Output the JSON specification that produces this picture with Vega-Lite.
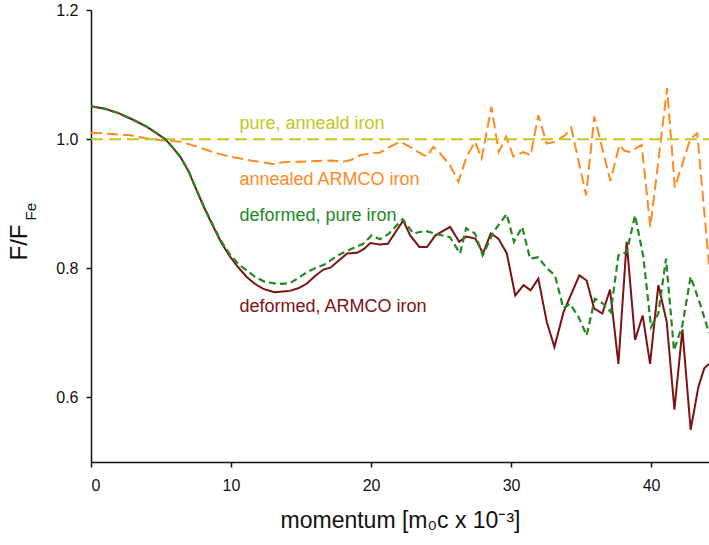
{
  "$schema": "https://vega.github.io/schema/vega-lite/v6.json",
  "width": 618,
  "height": 452,
  "autosize": {"type": "none"},
  "padding": {"left": 91, "top": 10, "right": 0, "bottom": 83},
  "background": "white",
  "config": {
    "view": {"stroke": null},
    "font": "Liberation Sans",
    "axis": {"labelFont": "Liberation Sans", "titleFont": "Liberation Sans", "labelColor": "#111", "titleColor": "#111", "domainColor": "#111", "tickColor": "#111", "domainWidth": 1.5, "tickWidth": 1.5, "tickSize": 5, "grid": false, "labelFontSize": 16, "titleFontWeight": "normal"}
  },
  "datasets": {
    "curves": [
      {"s": "pure annealed", "m": 0, "v": 1.0}, {"s": "pure annealed", "m": 44.14, "v": 1.0},

      {"s": "annealed ARMCO", "m": 0, "v": 1.010}, {"s": "annealed ARMCO", "m": 1.5, "v": 1.008}, {"s": "annealed ARMCO", "m": 2.8, "v": 1.006}, {"s": "annealed ARMCO", "m": 4.2, "v": 1.0}, {"s": "annealed ARMCO", "m": 5.3, "v": 0.998}, {"s": "annealed ARMCO", "m": 6.4, "v": 0.996}, {"s": "annealed ARMCO", "m": 7.5, "v": 0.989}, {"s": "annealed ARMCO", "m": 8.7, "v": 0.980}, {"s": "annealed ARMCO", "m": 9.9, "v": 0.973}, {"s": "annealed ARMCO", "m": 11.4, "v": 0.967}, {"s": "annealed ARMCO", "m": 12.3, "v": 0.964}, {"s": "annealed ARMCO", "m": 13.1, "v": 0.961}, {"s": "annealed ARMCO", "m": 13.6, "v": 0.964}, {"s": "annealed ARMCO", "m": 14.2, "v": 0.965}, {"s": "annealed ARMCO", "m": 14.93, "v": 0.965}, {"s": "annealed ARMCO", "m": 16.12, "v": 0.966}, {"s": "annealed ARMCO", "m": 17.2, "v": 0.967}, {"s": "annealed ARMCO", "m": 18.02, "v": 0.965}, {"s": "annealed ARMCO", "m": 18.62, "v": 0.968}, {"s": "annealed ARMCO", "m": 19.21, "v": 0.975}, {"s": "annealed ARMCO", "m": 19.93, "v": 0.978}, {"s": "annealed ARMCO", "m": 20.64, "v": 0.979}, {"s": "annealed ARMCO", "m": 21.24, "v": 0.987}, {"s": "annealed ARMCO", "m": 22.07, "v": 0.996}, {"s": "annealed ARMCO", "m": 22.79, "v": 0.988}, {"s": "annealed ARMCO", "m": 23.38, "v": 0.980}, {"s": "annealed ARMCO", "m": 23.98, "v": 0.973}, {"s": "annealed ARMCO", "m": 24.45, "v": 0.988}, {"s": "annealed ARMCO", "m": 24.93, "v": 0.978}, {"s": "annealed ARMCO", "m": 25.64, "v": 0.960}, {"s": "annealed ARMCO", "m": 26.24, "v": 0.934}, {"s": "annealed ARMCO", "m": 26.83, "v": 0.973}, {"s": "annealed ARMCO", "m": 27.43, "v": 0.996}, {"s": "annealed ARMCO", "m": 27.9, "v": 0.970}, {"s": "annealed ARMCO", "m": 28.6, "v": 1.050}, {"s": "annealed ARMCO", "m": 29.12, "v": 0.980}, {"s": "annealed ARMCO", "m": 29.65, "v": 1.004}, {"s": "annealed ARMCO", "m": 30.17, "v": 0.973}, {"s": "annealed ARMCO", "m": 30.88, "v": 0.980}, {"s": "annealed ARMCO", "m": 31.4, "v": 0.975}, {"s": "annealed ARMCO", "m": 31.95, "v": 1.037}, {"s": "annealed ARMCO", "m": 32.55, "v": 0.993}, {"s": "annealed ARMCO", "m": 33.14, "v": 0.996}, {"s": "annealed ARMCO", "m": 33.86, "v": 1.006}, {"s": "annealed ARMCO", "m": 34.3, "v": 1.018}, {"s": "annealed ARMCO", "m": 35.36, "v": 0.913}, {"s": "annealed ARMCO", "m": 35.95, "v": 1.035}, {"s": "annealed ARMCO", "m": 37.1, "v": 0.935}, {"s": "annealed ARMCO", "m": 37.74, "v": 0.991}, {"s": "annealed ARMCO", "m": 38.1, "v": 0.982}, {"s": "annealed ARMCO", "m": 38.5, "v": 0.980}, {"s": "annealed ARMCO", "m": 39.33, "v": 0.991}, {"s": "annealed ARMCO", "m": 39.95, "v": 0.864}, {"s": "annealed ARMCO", "m": 41.15, "v": 1.079}, {"s": "annealed ARMCO", "m": 41.7, "v": 0.925}, {"s": "annealed ARMCO", "m": 42.8, "v": 1.0}, {"s": "annealed ARMCO", "m": 43.3, "v": 1.009}, {"s": "annealed ARMCO", "m": 44.14, "v": 0.806},

      {"s": "deformed ARMCO", "m": 0, "v": 1.051}, {"s": "deformed ARMCO", "m": 1, "v": 1.047}, {"s": "deformed ARMCO", "m": 2, "v": 1.040}, {"s": "deformed ARMCO", "m": 3, "v": 1.030}, {"s": "deformed ARMCO", "m": 4, "v": 1.019}, {"s": "deformed ARMCO", "m": 4.7, "v": 1.009}, {"s": "deformed ARMCO", "m": 5.3, "v": 1.0}, {"s": "deformed ARMCO", "m": 5.8, "v": 0.988}, {"s": "deformed ARMCO", "m": 6.4, "v": 0.972}, {"s": "deformed ARMCO", "m": 7.0, "v": 0.949}, {"s": "deformed ARMCO", "m": 7.5, "v": 0.923}, {"s": "deformed ARMCO", "m": 8.1, "v": 0.893}, {"s": "deformed ARMCO", "m": 8.7, "v": 0.866}, {"s": "deformed ARMCO", "m": 9.3, "v": 0.840}, {"s": "deformed ARMCO", "m": 9.9, "v": 0.819}, {"s": "deformed ARMCO", "m": 10.5, "v": 0.802}, {"s": "deformed ARMCO", "m": 11.1, "v": 0.787}, {"s": "deformed ARMCO", "m": 11.7, "v": 0.776}, {"s": "deformed ARMCO", "m": 12.3, "v": 0.768}, {"s": "deformed ARMCO", "m": 13.1, "v": 0.763}, {"s": "deformed ARMCO", "m": 13.7, "v": 0.764}, {"s": "deformed ARMCO", "m": 14.2, "v": 0.765}, {"s": "deformed ARMCO", "m": 14.8, "v": 0.769}, {"s": "deformed ARMCO", "m": 15.4, "v": 0.776}, {"s": "deformed ARMCO", "m": 16.0, "v": 0.788}, {"s": "deformed ARMCO", "m": 16.6, "v": 0.798}, {"s": "deformed ARMCO", "m": 17.1, "v": 0.801}, {"s": "deformed ARMCO", "m": 17.7, "v": 0.812}, {"s": "deformed ARMCO", "m": 18.3, "v": 0.823}, {"s": "deformed ARMCO", "m": 19.0, "v": 0.824}, {"s": "deformed ARMCO", "m": 19.5, "v": 0.830}, {"s": "deformed ARMCO", "m": 19.95, "v": 0.839}, {"s": "deformed ARMCO", "m": 20.6, "v": 0.837}, {"s": "deformed ARMCO", "m": 21.2, "v": 0.838}, {"s": "deformed ARMCO", "m": 22.3, "v": 0.874}, {"s": "deformed ARMCO", "m": 22.8, "v": 0.851}, {"s": "deformed ARMCO", "m": 23.45, "v": 0.833}, {"s": "deformed ARMCO", "m": 24.0, "v": 0.833}, {"s": "deformed ARMCO", "m": 24.6, "v": 0.851}, {"s": "deformed ARMCO", "m": 25.65, "v": 0.864}, {"s": "deformed ARMCO", "m": 26.3, "v": 0.841}, {"s": "deformed ARMCO", "m": 26.8, "v": 0.849}, {"s": "deformed ARMCO", "m": 27.45, "v": 0.846}, {"s": "deformed ARMCO", "m": 28.0, "v": 0.823}, {"s": "deformed ARMCO", "m": 28.55, "v": 0.854}, {"s": "deformed ARMCO", "m": 29.1, "v": 0.846}, {"s": "deformed ARMCO", "m": 29.7, "v": 0.823}, {"s": "deformed ARMCO", "m": 30.3, "v": 0.758}, {"s": "deformed ARMCO", "m": 30.9, "v": 0.774}, {"s": "deformed ARMCO", "m": 31.4, "v": 0.766}, {"s": "deformed ARMCO", "m": 31.95, "v": 0.784}, {"s": "deformed ARMCO", "m": 32.55, "v": 0.717}, {"s": "deformed ARMCO", "m": 33.1, "v": 0.678}, {"s": "deformed ARMCO", "m": 33.75, "v": 0.732}, {"s": "deformed ARMCO", "m": 34.88, "v": 0.789}, {"s": "deformed ARMCO", "m": 35.4, "v": 0.781}, {"s": "deformed ARMCO", "m": 35.93, "v": 0.738}, {"s": "deformed ARMCO", "m": 36.52, "v": 0.730}, {"s": "deformed ARMCO", "m": 37.07, "v": 0.767}, {"s": "deformed ARMCO", "m": 37.67, "v": 0.652}, {"s": "deformed ARMCO", "m": 38.26, "v": 0.841}, {"s": "deformed ARMCO", "m": 38.86, "v": 0.689}, {"s": "deformed ARMCO", "m": 39.4, "v": 0.727}, {"s": "deformed ARMCO", "m": 39.93, "v": 0.652}, {"s": "deformed ARMCO", "m": 40.52, "v": 0.774}, {"s": "deformed ARMCO", "m": 41.12, "v": 0.717}, {"s": "deformed ARMCO", "m": 41.67, "v": 0.581}, {"s": "deformed ARMCO", "m": 42.24, "v": 0.705}, {"s": "deformed ARMCO", "m": 42.83, "v": 0.550}, {"s": "deformed ARMCO", "m": 43.38, "v": 0.616}, {"s": "deformed ARMCO", "m": 43.8, "v": 0.645}, {"s": "deformed ARMCO", "m": 44.14, "v": 0.652},

      {"s": "deformed pure", "m": 0, "v": 1.051}, {"s": "deformed pure", "m": 1, "v": 1.047}, {"s": "deformed pure", "m": 2, "v": 1.040}, {"s": "deformed pure", "m": 3, "v": 1.030}, {"s": "deformed pure", "m": 4, "v": 1.019}, {"s": "deformed pure", "m": 4.7, "v": 1.009}, {"s": "deformed pure", "m": 5.3, "v": 1.0}, {"s": "deformed pure", "m": 5.8, "v": 0.988}, {"s": "deformed pure", "m": 6.4, "v": 0.972}, {"s": "deformed pure", "m": 7.0, "v": 0.949}, {"s": "deformed pure", "m": 7.5, "v": 0.923}, {"s": "deformed pure", "m": 8.1, "v": 0.894}, {"s": "deformed pure", "m": 8.7, "v": 0.867}, {"s": "deformed pure", "m": 9.3, "v": 0.842}, {"s": "deformed pure", "m": 9.9, "v": 0.822}, {"s": "deformed pure", "m": 10.5, "v": 0.807}, {"s": "deformed pure", "m": 11.1, "v": 0.797}, {"s": "deformed pure", "m": 11.7, "v": 0.787}, {"s": "deformed pure", "m": 12.4, "v": 0.779}, {"s": "deformed pure", "m": 13.0, "v": 0.777}, {"s": "deformed pure", "m": 13.6, "v": 0.776}, {"s": "deformed pure", "m": 14.2, "v": 0.777}, {"s": "deformed pure", "m": 14.9, "v": 0.786}, {"s": "deformed pure", "m": 15.5, "v": 0.795}, {"s": "deformed pure", "m": 16.0, "v": 0.800}, {"s": "deformed pure", "m": 16.6, "v": 0.805}, {"s": "deformed pure", "m": 17.1, "v": 0.812}, {"s": "deformed pure", "m": 17.55, "v": 0.819}, {"s": "deformed pure", "m": 18.3, "v": 0.827}, {"s": "deformed pure", "m": 18.9, "v": 0.833}, {"s": "deformed pure", "m": 19.45, "v": 0.838}, {"s": "deformed pure", "m": 20.05, "v": 0.851}, {"s": "deformed pure", "m": 20.64, "v": 0.845}, {"s": "deformed pure", "m": 21.24, "v": 0.853}, {"s": "deformed pure", "m": 22.26, "v": 0.876}, {"s": "deformed pure", "m": 23.02, "v": 0.854}, {"s": "deformed pure", "m": 23.86, "v": 0.858}, {"s": "deformed pure", "m": 24.69, "v": 0.853}, {"s": "deformed pure", "m": 25.64, "v": 0.848}, {"s": "deformed pure", "m": 26.36, "v": 0.823}, {"s": "deformed pure", "m": 26.79, "v": 0.862}, {"s": "deformed pure", "m": 27.43, "v": 0.854}, {"s": "deformed pure", "m": 27.98, "v": 0.820}, {"s": "deformed pure", "m": 28.74, "v": 0.856}, {"s": "deformed pure", "m": 29.69, "v": 0.884}, {"s": "deformed pure", "m": 30.21, "v": 0.841}, {"s": "deformed pure", "m": 30.8, "v": 0.864}, {"s": "deformed pure", "m": 31.36, "v": 0.815}, {"s": "deformed pure", "m": 31.95, "v": 0.817}, {"s": "deformed pure", "m": 32.55, "v": 0.800}, {"s": "deformed pure", "m": 33.14, "v": 0.789}, {"s": "deformed pure", "m": 33.74, "v": 0.738}, {"s": "deformed pure", "m": 34.21, "v": 0.745}, {"s": "deformed pure", "m": 34.81, "v": 0.725}, {"s": "deformed pure", "m": 35.4, "v": 0.696}, {"s": "deformed pure", "m": 35.99, "v": 0.753}, {"s": "deformed pure", "m": 36.59, "v": 0.745}, {"s": "deformed pure", "m": 37.12, "v": 0.732}, {"s": "deformed pure", "m": 37.67, "v": 0.820}, {"s": "deformed pure", "m": 38.26, "v": 0.825}, {"s": "deformed pure", "m": 38.86, "v": 0.882}, {"s": "deformed pure", "m": 39.45, "v": 0.818}, {"s": "deformed pure", "m": 40.0, "v": 0.709}, {"s": "deformed pure", "m": 40.52, "v": 0.730}, {"s": "deformed pure", "m": 41.07, "v": 0.815}, {"s": "deformed pure", "m": 41.64, "v": 0.673}, {"s": "deformed pure", "m": 42.24, "v": 0.712}, {"s": "deformed pure", "m": 42.83, "v": 0.787}, {"s": "deformed pure", "m": 43.5, "v": 0.745}, {"s": "deformed pure", "m": 44.14, "v": 0.700}
    ],
    "labels": [
      {"s": "pure annealed", "m": 10.6, "v": 1.015, "label": "pure, anneald iron"},
      {"s": "annealed ARMCO", "m": 10.6, "v": 0.929, "label": "annealed ARMCO iron"},
      {"s": "deformed pure", "m": 10.6, "v": 0.873, "label": "deformed, pure iron"},
      {"s": "deformed ARMCO", "m": 10.6, "v": 0.732, "label": "deformed, ARMCO iron"}
    ],
    "sub": [{"m": -3.95, "v": 0.874, "label": "Fe"}]
  },
  "layer": [
    {
      "data": {"name": "curves"},
      "transform": [{"filter": "datum.s == 'annealed ARMCO'"}],
      "mark": {"type": "line", "clip": true, "strokeWidth": 2, "strokeDash": [11, 5]},
      "encoding": {
        "x": {"field": "m", "type": "quantitative", "scale": {"domain": [0, 44.14], "nice": false, "zero": false},
              "axis": {"values": [0, 10, 20, 30, 40], "title": "momentum [m₀c x 10⁻³]", "titleFontSize": 23, "labelPadding": 10, "titlePadding": 16}},
        "y": {"field": "v", "type": "quantitative", "scale": {"domain": [0.5, 1.2], "nice": false, "zero": false},
              "axis": {"values": [0.6, 0.8, 1.0, 1.2], "format": ".1f", "title": "F/F", "titleFontSize": 24, "labelPadding": 8, "titleAngle": 270, "titleAlign": "left", "titleY": 250, "titleX": -60}},
        "color": {"field": "s", "type": "nominal", "legend": null,
                  "scale": {"domain": ["pure annealed", "annealed ARMCO", "deformed pure", "deformed ARMCO"], "range": ["#c2c71c", "#ff8a1f", "#23881f", "#7c1313"]}},
        "order": {"field": "m", "type": "quantitative"}
      }
    },
    {
      "data": {"name": "curves"},
      "transform": [{"filter": "datum.s == 'pure annealed'"}],
      "mark": {"type": "line", "clip": true, "strokeWidth": 2, "strokeDash": [12, 6]},
      "encoding": {
        "x": {"field": "m", "type": "quantitative"},
        "y": {"field": "v", "type": "quantitative"},
        "color": {"field": "s", "type": "nominal", "legend": null}
      }
    },
    {
      "data": {"name": "curves"},
      "transform": [{"filter": "datum.s == 'deformed ARMCO'"}],
      "mark": {"type": "line", "clip": true, "strokeWidth": 2},
      "encoding": {
        "x": {"field": "m", "type": "quantitative"},
        "y": {"field": "v", "type": "quantitative"},
        "color": {"field": "s", "type": "nominal", "legend": null},
        "order": {"field": "m", "type": "quantitative"}
      }
    },
    {
      "data": {"name": "curves"},
      "transform": [{"filter": "datum.s == 'deformed pure'"}],
      "mark": {"type": "line", "clip": true, "strokeWidth": 2.2, "strokeDash": [7, 4]},
      "encoding": {
        "x": {"field": "m", "type": "quantitative"},
        "y": {"field": "v", "type": "quantitative"},
        "color": {"field": "s", "type": "nominal", "legend": null},
        "order": {"field": "m", "type": "quantitative"}
      }
    },
    {
      "mark": {"type": "rule", "color": "#111", "strokeWidth": 1.5},
      "encoding": {"y": {"datum": 1.2}}
    },
    {
      "data": {"name": "labels"},
      "mark": {"type": "text", "align": "left", "baseline": "alphabetic", "fontSize": 18, "font": "Liberation Sans"},
      "encoding": {
        "x": {"field": "m", "type": "quantitative"},
        "y": {"field": "v", "type": "quantitative"},
        "text": {"field": "label"},
        "color": {"field": "s", "type": "nominal", "legend": null}
      }
    },
    {
      "data": {"name": "sub"},
      "mark": {"type": "text", "align": "left", "baseline": "alphabetic", "angle": 270, "fontSize": 15, "font": "Liberation Sans", "color": "#111"},
      "encoding": {
        "x": {"field": "m", "type": "quantitative"},
        "y": {"field": "v", "type": "quantitative"},
        "text": {"field": "label"}
      }
    }
  ]
}
